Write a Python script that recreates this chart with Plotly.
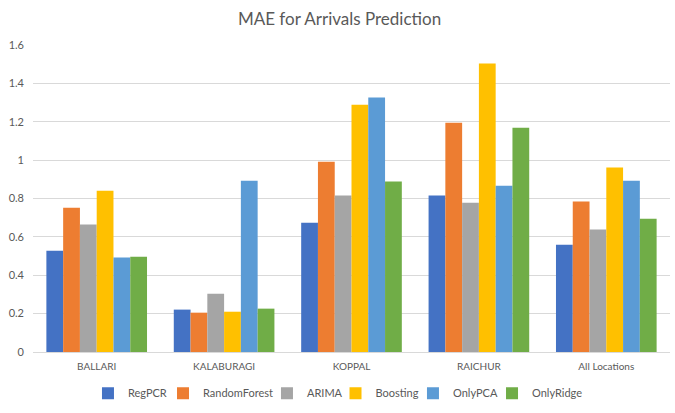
import plotly.graph_objects as go

locations = ["BALLARI", "KALABURAGI", "KOPPAL", "RAICHUR", "All Locations"]

reg_pcr = [0.528, 0.221, 0.674, 0.815, 0.559]
random_forest = [0.752, 0.205, 0.992, 1.195, 0.784]
arima = [0.664, 0.304, 0.815, 0.778, 0.638]
boosting = [0.841, 0.210, 1.289, 1.503, 0.961]
only_pca = [0.492, 0.893, 1.326, 0.867, 0.893]
only_ridge = [0.497, 0.226, 0.888, 1.169, 0.695]

series = [
    ("RegPCR", reg_pcr, "#4472C4"),
    ("RandomForest", random_forest, "#ED7D31"),
    ("ARIMA", arima, "#A5A5A5"),
    ("Boosting", boosting, "#FFC000"),
    ("OnlyPCA", only_pca, "#5B9BD5"),
    ("OnlyRidge", only_ridge, "#70AD47"),
]

# one small legend per series so the entries can sit tight like Excel's
legend_x = [0.0863, 0.2041, 0.3673, 0.4749, 0.5965, 0.7206]

fig = go.Figure()
legends = {}
for i, (name, vals, col) in enumerate(series):
    key = "legend" if i == 0 else "legend%d" % (i + 1)
    fig.add_trace(go.Bar(x=locations, y=vals, name=name, marker_color=col,
                         marker_line_width=0, legend=key, showlegend=True))
    legends[key] = dict(orientation="h", x=legend_x[i], xanchor="left",
                        y=-0.134, yanchor="middle", itemwidth=30,
                        bgcolor="rgba(0,0,0,0)",
                        font=dict(size=11, color="#595959"))

fig.update_layout(
    width=675, height=413,
    margin={"l": 33, "r": 5, "t": 45, "b": 61},
    paper_bgcolor="white", plot_bgcolor="white",
    showlegend=True,
    font=dict(family="Lato, Open Sans, sans-serif", color="#595959", size=11),
    title=dict(text="MAE for Arrivals Prediction", x=0.503, xanchor="center",
               y=0.955, yanchor="middle",
               font=dict(size=17, color="#595959")),
    barmode="group", bargap=0.21, bargroupgap=0,
    **legends,
)
fig.update_yaxes(range=[0, 1.6], dtick=0.2, showgrid=True, gridcolor="#D9D9D9",
                 zeroline=True, zerolinecolor="#D9D9D9", zerolinewidth=1,
                 tickformat="~g", ticks="", ticklabelstandoff=8, automargin=False,
                 tickfont=dict(size=11, color="#595959"))
fig.update_xaxes(showline=False, ticks="", automargin=False, ticklabelstandoff=7,
                 tickfont=dict(size=10, color="#595959"))

fig.write_html("out.html", config={"displayModeBar": False},
               post_script="document.body.style.margin='0px';")
